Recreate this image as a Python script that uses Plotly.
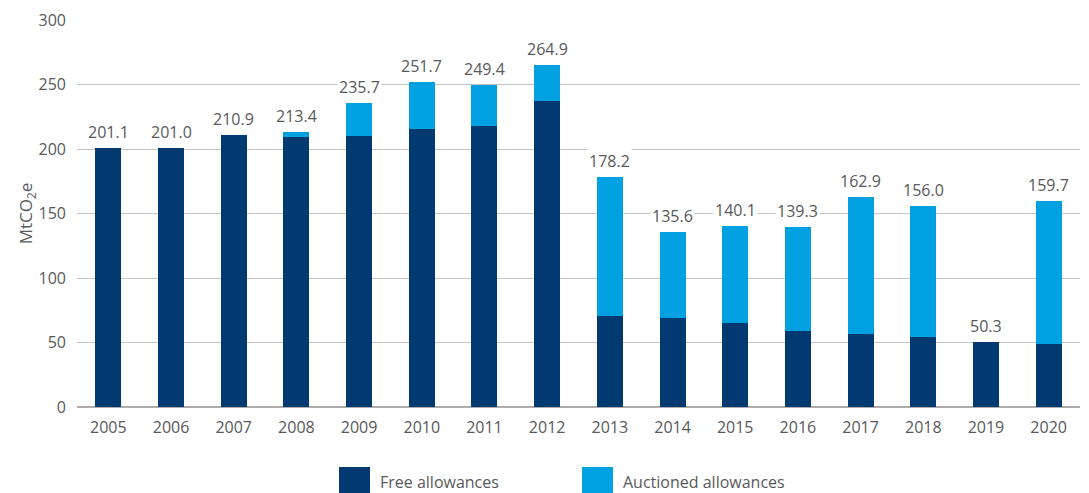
import plotly.graph_objects as go

# Allowances issued per year, MtCO2e
years = ["2005", "2006", "2007", "2008", "2009", "2010", "2011", "2012",
         "2013", "2014", "2015", "2016", "2017", "2018", "2019", "2020"]
totals = [201.1, 201.0, 210.9, 213.4, 235.7, 251.7, 249.4, 264.9,
          178.2, 135.6, 140.1, 139.3, 162.9, 156.0, 50.3, 159.7]
free_allowances = [201.1, 201.0, 210.9, 209.3, 209.8, 215.3, 217.6, 237.0,
                   70.3, 68.8, 64.9, 58.7, 56.4, 54.0, 50.3, 48.6]
auctioned_allowances = [round(t - f, 1) for t, f in zip(totals, free_allowances)]

NAVY = "#003a70"
SKY = "#00a0e1"
TEXT = "#58595b"
FONT = "Open Sans"

fig = go.Figure()
fig.add_trace(go.Bar(x=years, y=free_allowances, name="Free allowances",
                     marker=dict(color=NAVY, line=dict(width=0)), width=0.415))
fig.add_trace(go.Bar(x=years, y=auctioned_allowances, name="Auctioned allowances",
                     marker=dict(color=SKY, line=dict(width=0)), width=0.415))

# Total labels above each stack (category axis: position by category index)
for i, tot in enumerate(totals):
    fig.add_annotation(x=i, y=tot, text=f"{tot:.1f}", showarrow=False,
                       yanchor="bottom", yshift=3, bgcolor="white",
                       font=dict(family=FONT, size=16, color=TEXT))

# Legend drawn below the plot
legend_items = [("Free allowances", NAVY, 0.2612), ("Auctioned allowances", SKY, 0.5035)]
for label, color, x0 in legend_items:
    fig.add_shape(type="rect", xref="paper", yref="paper",
                  x0=x0, x1=x0 + 0.0309, y0=-0.155, y1=-0.225,
                  fillcolor=color, line=dict(width=0))
    fig.add_annotation(xref="paper", yref="paper", x=x0 + 0.0389, y=-0.193,
                       text=label, showarrow=False, xanchor="left", yanchor="middle",
                       font=dict(family=FONT, size=16, color=TEXT))

fig.update_layout(
    barmode="stack",
    width=1089, height=493,
    margin=dict(l=77, r=9, t=20, b=86),
    plot_bgcolor="white", paper_bgcolor="white",
    showlegend=False,
    font=dict(family=FONT, size=16, color=TEXT),
)
fig.update_xaxes(
    type="category", range=[-0.5, len(years) - 0.5],
    showgrid=False, showline=False, ticks="", ticklabelstandoff=9,
    tickfont=dict(family=FONT, size=16, color=TEXT),
)
fig.update_yaxes(
    range=[0, 300], tickvals=[0, 50, 100, 150, 200, 250, 300],
    showgrid=True, gridcolor="#c4c4c4", gridwidth=1,
    zeroline=True, zerolinecolor="#aeacac", zerolinewidth=2,
    showline=False, ticks="", ticklabelstandoff=10,
    tickfont=dict(family=FONT, size=16, color=TEXT),
    title=dict(text="MtCO<sub>2</sub>e", standoff=0,
               font=dict(family=FONT, size=17, color=TEXT)),
)

fig.write_html("out.html")
